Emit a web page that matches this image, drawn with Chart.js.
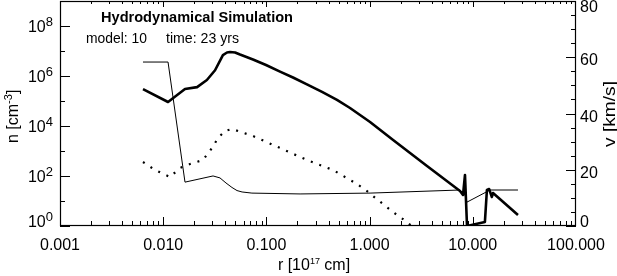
<!DOCTYPE html>
<html>
<head>
<meta charset="utf-8">
<script src="https://cdn.jsdelivr.net/npm/chart.js@4/dist/chart.umd.min.js"></script>
<style>
  body { margin: 0; background: #fff; }
  canvas { display: block; }
</style>
</head>
<body>
<canvas id="grafico" width="617" height="276"></canvas>
<script>
// densidad total (linea gruesa), eje izquierdo
const radioDensidad = [0.00637, 0.01114, 0.01626, 0.0213, 0.0265, 0.0318, 0.0379, 0.0415, 0.0444, 0.0497, 0.0555, 0.0741, 0.0991, 0.1355, 0.181, 0.247, 0.346, 0.483, 0.646, 1.01, 1.69, 3.60, 7.52, 8.04, 8.40, 8.79, 13.1, 13.7, 14.4, 15.3, 15.7, 27.4];
const densidad = [3.0e5, 9.1e4, 3.0e5, 3.6e5, 6.9e5, 1.7e6, 6.9e6, 8.7e6, 9.1e6, 8.7e6, 7.2e6, 4.6e6, 2.75e6, 1.5e6, 8.7e5, 4.6e5, 2.3e5, 1.1e5, 5.25e4, 1.45e4, 2.75e3, 251, 25.1, 17.4, 110, 1, 1.45, 27.5, 30, 14.5, 20.9, 2.75];

// segunda densidad (linea punteada), eje izquierdo
const radioPunteada = [0.00637, 0.00834, 0.01164, 0.01456, 0.0182, 0.0243, 0.0297, 0.0340, 0.0397, 0.0464, 0.0741, 0.1355, 0.247, 0.442, 0.755, 0.944, 1.08, 1.69, 2.30, 2.75, 3.5];
const densidadPunteada = [363, 174, 91, 209, 302, 437, 1318, 3311, 6310, 7586, 3981, 1318, 437, 174, 47.9, 25.1, 15.8, 3.6, 1.45, 0.76, 0.3];

// velocidad (linea fina), eje derecho
const radioVelocidad = [0.00637, 0.01114, 0.01626, 0.0304, 0.0355, 0.0406, 0.0464, 0.0519, 0.0581, 0.0649, 0.0724, 0.212, 1.01, 7.52, 8.40, 8.79, 14.7, 27.4];
const velocidad = [58.3, 58.3, 15.6, 17.8, 17.1, 15.3, 13.7, 12.6, 12.1, 11.9, 11.7, 11.4, 11.7, 12.8, 11.0, 8.5, 12.8, 12.8];

// marcas de los ejes
const marcasX = [0.001, 0.01, 0.1, 1, 10, 100];
const etiquetasX = ['0.001', '0.010', '0.100', '1.000', '10.000', '100.000'];
const exponentesN = [0, 2, 4, 6, 8];
const marcasV = [0, 20, 40, 60, 80];

const FUENTE = "'Liberation Sans', Arial, Helvetica, sans-serif";

function puntos(xs, ys) {
    return xs.map((x, i) => ({ x: x, y: ys[i] }));
}

// texto ajustado a un ancho dado
function textoAjustado(ctx, txt, x, y, ancho) {
    const w = ctx.measureText(txt).width;
    ctx.save();
    ctx.translate(x, y);
    ctx.scale(ancho / w, 1);
    ctx.textAlign = 'left';
    ctx.fillText(txt, 0, 0);
    ctx.restore();
}

// dibuja trozos [texto, tamaño, subida] seguidos; devuelve el ancho
function trozos(ctx, partes, x, y, medir) {
    let cx = x;
    partes.forEach(p => {
        ctx.font = p[1] + 'px ' + FUENTE;
        if (!medir) ctx.fillText(p[0], cx, y - p[2]);
        cx += ctx.measureText(p[0]).width;
    });
    return cx - x;
}

const ejesIDL = {
    id: 'ejesIDL',
    afterDraw(chart) {
        const ctx = chart.ctx;
        const a = chart.chartArea;
        const sx = chart.scales.x, sn = chart.scales.y, sv = chart.scales.y1;
        ctx.save();
        ctx.strokeStyle = '#000';
        ctx.fillStyle = '#000';
        ctx.lineWidth = 1.2;
        ctx.strokeRect(a.left + 0.5, a.top + 0.5, a.right - a.left - 1, a.bottom - a.top - 1);

        ctx.lineWidth = 1;
        ctx.beginPath();
        // eje x, arriba y abajo, marcas hacia dentro
        for (let d = -3; d < 2; d++) {
            for (let k = 1; k <= 9; k++) {
                const px = Math.round(sx.getPixelForValue(k * Math.pow(10, d))) + 0.5;
                const largo = k === 1 ? 9 : 5;
                ctx.moveTo(px, a.bottom); ctx.lineTo(px, a.bottom - largo);
                ctx.moveTo(px, a.top); ctx.lineTo(px, a.top + (k === 1 ? 6 : 3));
            }
        }
        // eje izquierdo
        for (let e = 0; e <= 9; e++) {
            const py = Math.round(sn.getPixelForValue(Math.pow(10, e))) + 0.5;
            ctx.moveTo(a.left, py); ctx.lineTo(a.left + (e % 2 === 0 ? 10 : 5), py);
        }
        // eje derecho
        for (let v = 0; v <= 80; v += 5) {
            const py = Math.round(sv.getPixelForValue(v)) + 0.5;
            ctx.moveTo(a.right, py); ctx.lineTo(a.right - (v % 20 === 0 ? 10 : 5), py);
        }
        ctx.stroke();

        // etiquetas x
        ctx.font = '16px ' + FUENTE;
        ctx.textAlign = 'center';
        ctx.textBaseline = 'alphabetic';
        marcasX.forEach((m, i) => {
            ctx.fillText(etiquetasX[i], sx.getPixelForValue(m), 250);
        });

        // etiquetas izquierda 10^n
        ctx.textAlign = 'left';
        exponentesN.forEach(e => {
            const py = sn.getPixelForValue(Math.pow(10, e));
            const base = Math.min(py + 6, 227);
            const partes = [['10', 16, 0], [String(e), 13, 6]];
            const w = trozos(ctx, partes, 0, 0, true);
            trozos(ctx, partes, 53 - w, base, false);
        });

        // etiquetas derecha
        ctx.font = '16px ' + FUENTE;
        marcasV.forEach(v => {
            const py = sv.getPixelForValue(v);
            const base = Math.max(12, Math.min(py + 8, 227));
            ctx.fillText(String(v), a.right + 4, base);
        });

        // titulo eje x
        const tx = [['r [10', 16, 0], ['17', 9, 6], [' cm]', 16, 0]];
        const wx = trozos(ctx, tx, 0, 0, true);
        trozos(ctx, tx, (a.left + a.right) / 2 - wx / 2 - 4, 270, false);

        // titulo eje izquierdo, girado
        ctx.save();
        ctx.translate(18, 143);
        ctx.rotate(-Math.PI / 2);
        trozos(ctx, [['n [cm', 16, 0], ['-3', 11, 6], [']', 16, 0]], 0, 0, false);
        ctx.restore();

        // titulo eje derecho, girado
        ctx.save();
        ctx.translate(615, 147);
        ctx.rotate(-Math.PI / 2);
        ctx.font = '16px ' + FUENTE;
        textoAjustado(ctx, 'v [km/s]', 0, 0, 66);
        ctx.restore();

        // textos del grafico
        ctx.font = 'bold 15px ' + FUENTE;
        textoAjustado(ctx, 'Hydrodynamical Simulation', 101, 22, 192);
        ctx.font = '14px ' + FUENTE;
        textoAjustado(ctx, 'model: 10', 86, 43, 61);
        textoAjustado(ctx, 'time: 23 yrs', 166, 43, 73);
        ctx.restore();
    }
};

function dibujarGrafico() {
    const ctx = document.getElementById('grafico').getContext('2d');
    new Chart(ctx, {
        type: 'line',
        data: {
            datasets: [{
                label: 'n',
                data: puntos(radioDensidad, densidad),
                yAxisID: 'y',
                borderColor: '#000',
                borderWidth: 2.6,
                borderJoinStyle: 'round',
                pointRadius: 0,
                tension: 0
            }, {
                label: 'n2',
                data: puntos(radioPunteada, densidadPunteada),
                yAxisID: 'y',
                borderColor: '#000',
                borderWidth: 2.2,
                borderDash: [2, 7],
                pointRadius: 0,
                tension: 0
            }, {
                label: 'v',
                data: puntos(radioVelocidad, velocidad),
                yAxisID: 'y1',
                borderColor: '#000',
                borderWidth: 1,
                pointRadius: 0,
                tension: 0
            }]
        },
        options: {
            responsive: false,
            animation: false,
            events: [],
            layout: { padding: { left: 60, right: 41, top: 1, bottom: 50 } },
            plugins: { legend: { display: false }, tooltip: { enabled: false } },
            scales: {
                x: { type: 'logarithmic', min: 0.001, max: 100, display: false },
                y: { type: 'logarithmic', min: 1, max: 1e9, display: false },
                y1: { type: 'linear', min: 0, max: 80, display: false }
            }
        },
        plugins: [ejesIDL]
    });
}

dibujarGrafico();
</script>
</body>
</html>
